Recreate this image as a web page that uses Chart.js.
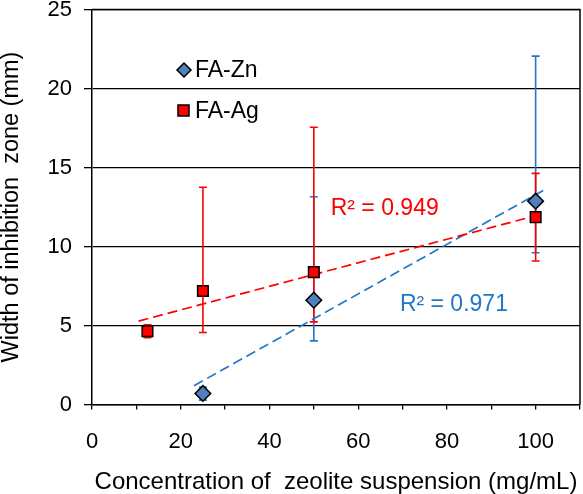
<!DOCTYPE html>
<html>
<head>
<meta charset="utf-8">
<script src="https://cdn.jsdelivr.net/npm/chart.js@4"></script>
<style>
html, body { margin: 0; padding: 0; background: #fff; }
</style>
</head>
<body>
<canvas id="zone" width="583" height="494"></canvas>
<script>
// values
const zn_x = [25, 50, 100];
const zn_y = [0.7, 6.6, 12.87];
const zn_hi = [1.1, 13.15, 22.05];
const zn_lo = [0.28, 4.03, 9.6];
const ag_x = [12.5, 25, 50, 100];
const ag_y = [4.64, 7.18, 8.38, 11.86];
const ag_hi = [5.05, 13.75, 17.55, 14.63];
const ag_lo = [4.22, 4.56, 5.23, 9.08];
const zn_trend_x = [23, 102];
const zn_trend_y = [1.19, 13.59];
const ag_trend_x = [10.5, 100];
const ag_trend_y = [5.28, 11.95];
const x_ticks = [0, 20, 40, 60, 80, 100];
const series_names = ["FA-Zn", "FA-Ag"];
const r2_labels = ["R² = 0.971", "R² = 0.949"];

const BLUE = '#2277c8';
const ZN_FILL = '#4f81bd';
const RED = '#ff0000';
const FONT = 'Liberation Sans, Arial, sans-serif';

function pts(xs, ys) { return xs.map((v, i) => ({ x: v, y: ys[i] })); }

const frame = {
  id: 'frame',
  beforeDatasetsDraw(chart) {
    const { ctx, chartArea: a } = chart;
    ctx.save();
    ctx.strokeStyle = '#000';
    ctx.lineWidth = 1.5;
    ctx.beginPath();
    ctx.moveTo(a.left, a.top);
    ctx.lineTo(a.right, a.top);
    ctx.lineTo(a.right, a.bottom);
    ctx.stroke();
    ctx.restore();
  }
};

const errorBars = {
  id: 'errorBars',
  beforeDatasetsDraw(chart) {
    const { ctx, scales: { x, y } } = chart;
    const sets = [[zn_x, zn_hi, zn_lo, BLUE], [ag_x, ag_hi, ag_lo, RED]];
    ctx.save();
    ctx.lineWidth = 1.6;
    sets.forEach(([xs, hi, lo, col]) => {
      ctx.strokeStyle = col;
      xs.forEach((v, i) => {
        const px = x.getPixelForValue(v);
        const top = y.getPixelForValue(hi[i]);
        const bot = y.getPixelForValue(lo[i]);
        ctx.beginPath();
        ctx.moveTo(px, top); ctx.lineTo(px, bot);
        ctx.moveTo(px - 4, top); ctx.lineTo(px + 4, top);
        ctx.moveTo(px - 4, bot); ctx.lineTo(px + 4, bot);
        ctx.stroke();
      });
    });
    ctx.restore();
  }
};

const labels = {
  id: 'labels',
  afterDraw(chart) {
    const { ctx, chartArea: a, scales: { x, y } } = chart;
    ctx.save();
    ctx.font = '23px ' + FONT;
    ctx.textBaseline = 'middle';
    ctx.textAlign = 'left';
    // legend inside the plot
    ctx.lineWidth = 1.5;
    ctx.strokeStyle = '#000';
    ctx.fillStyle = ZN_FILL;
    Chart.helpers.drawPoint(ctx, { pointStyle: 'rectRot', radius: 7, borderWidth: 1.5, rotation: 0 }, a.left + 92, a.top + 60.5);
    ctx.fillStyle = RED;
    Chart.helpers.drawPoint(ctx, { pointStyle: 'rect', radius: 7.8, borderWidth: 1.5, rotation: 0 }, a.left + 91.5, a.top + 101);
    ctx.fillStyle = '#000';
    ctx.fillText(series_names[0], a.left + 103, a.top + 61);
    ctx.fillText(series_names[1], a.left + 103, a.top + 102);
    // R² notes
    ctx.font = '23px ' + FONT;
    ctx.fillStyle = BLUE;
    ctx.fillText(r2_labels[0], x.getPixelForValue(69.4), y.getPixelForValue(6.3));
    ctx.fillStyle = RED;
    ctx.fillText(r2_labels[1], x.getPixelForValue(53.8), y.getPixelForValue(12.4));
    ctx.restore();
  }
};

new Chart(document.getElementById('zone'), {
  type: 'scatter',
  data: {
    datasets: [
      {
        label: series_names[0],
        data: pts(zn_x, zn_y),
        pointStyle: 'rectRot',
        pointRadius: 7.8,
        pointHoverRadius: 7.8,
        backgroundColor: ZN_FILL,
        borderColor: '#000',
        pointBorderWidth: 1.5,
        order: 1
      },
      {
        label: series_names[1],
        data: pts(ag_x, ag_y),
        pointStyle: 'rect',
        pointRadius: 7.5,
        pointHoverRadius: 7.5,
        backgroundColor: RED,
        borderColor: '#000',
        pointBorderWidth: 1.5,
        order: 0
      },
      {
        label: 'zn trend',
        data: pts(zn_trend_x, zn_trend_y),
        showLine: true,
        pointRadius: 0,
        borderColor: BLUE,
        borderWidth: 1.7,
        borderDash: [10, 5],
        order: 3
      },
      {
        label: 'ag trend',
        data: pts(ag_trend_x, ag_trend_y),
        showLine: true,
        pointRadius: 0,
        borderColor: RED,
        borderWidth: 1.7,
        borderDash: [10, 5],
        order: 2
      }
    ]
  },
  options: {
    responsive: false,
    animation: false,
    devicePixelRatio: 1,
    layout: { autoPadding: false, padding: { top: 9.5, right: 3, bottom: 0, left: 0 } },
    plugins: { legend: { display: false }, tooltip: { enabled: false } },
    scales: {
      x: {
        type: 'linear',
        min: 0,
        max: 110,
        afterFit: s => { s.height = 89.5; s.paddingLeft = 0; s.paddingRight = 0; },
        ticks: {
          stepSize: 10,
          autoSkip: false,
          maxRotation: 0,
          padding: 19,
          color: '#000',
          font: { size: 22, family: FONT },
          callback: v => x_ticks.includes(v) ? String(v) : ''
        },
        grid: { drawOnChartArea: false, color: '#000', tickLength: 5, lineWidth: 1.3 },
        border: { color: '#000', width: 1.5 },
        title: {
          display: true,
          text: 'Concentration of  zeolite suspension (mg/mL)',
          color: '#000',
          font: { size: 24, family: FONT, lineHeight: 1 },
          padding: { top: 0, bottom: 0 }
        }
      },
      y: {
        min: 0,
        max: 25,
        afterFit: s => { s.width = 92; s.paddingTop = 0; s.paddingBottom = 0; },
        ticks: {
          stepSize: 5,
          padding: 12,
          color: '#000',
          font: { size: 22, family: FONT }
        },
        grid: { color: '#000', tickLength: 8, lineWidth: 1.3 },
        border: { color: '#000', width: 1.5 },
        title: {
          display: true,
          text: 'Width of inhibition  zone (mm)',
          color: '#000',
          font: { size: 23.5, family: FONT, lineHeight: 1 },
          padding: { top: 0, bottom: 0 }
        }
      }
    }
  },
  plugins: [frame, errorBars, labels]
});
</script>
</body>
</html>
